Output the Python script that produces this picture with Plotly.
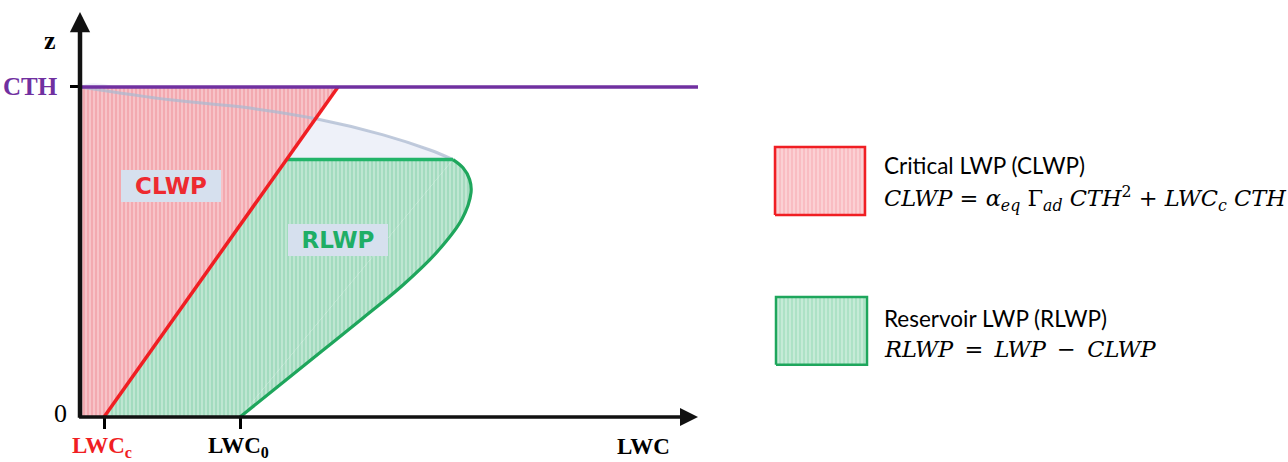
import plotly.graph_objects as go

# Liquid water content profile (LWC, height z), cloud base -> cloud top.
# z is in units of the cloud-top height (CTH = 1); LWC in arbitrary units.
z_prof = [0.0, 0.1, 0.2, 0.3, 0.4, 0.5, 0.6, 0.68, 0.72, 0.755, 0.78,
          0.809, 0.855, 0.903, 0.936, 0.961, 1.0]
lwc_prof = [0.400, 0.5025, 0.605, 0.7075, 0.8075, 0.8925, 0.955, 0.9775, 0.974,
            0.9575, 0.9325, 0.875, 0.758, 0.593, 0.425, 0.225, 0.0]
RES_TOP_IDX = 10          # top of the reservoir part of the profile

CTH = 1.0                 # cloud-top height
LWC_C = 0.06              # critical LWC at cloud base
LWC_CLWP_TOP = 0.645      # critical profile value at cloud top
LWC_0 = lwc_prof[0]

X_AXIS_END = 1.545
Z_AXIS_END = 1.227
X_RANGE = [0, 3.02]
Y_RANGE = [0, 1.2636]

PINK, PINK_LEG = "#f3a9b0", "#f9bcc2"
GREEN_F, GREEN_LEG = "#a3dbbf", "#ade2c6"
RED = "#f01e23"
GREEN = "#1ea65c"
GREEN_TOP = "#22b469"
PURPLE = "#7030a0"
GREY = "rgba(172,186,208,0.75)"
LAVENDER = "#eef1f9"
BOX = "#d6e0ee"

z_res = z_prof[RES_TOP_IDX]
x_res = lwc_prof[RES_TOP_IDX]
slope = (LWC_CLWP_TOP - LWC_C) / CTH
x_res_left = LWC_C + slope * z_res

low_x, low_z = lwc_prof[:RES_TOP_IDX + 1], z_prof[:RES_TOP_IDX + 1]
up_x, up_z = lwc_prof[RES_TOP_IDX:], z_prof[RES_TOP_IDX:]


def stripes(bg):
    return dict(shape="|", bgcolor=bg, fgcolor="white", size=4, solidity=0.3)


fig = go.Figure()

# region between the reservoir top and the entrained upper profile
fig.add_trace(go.Scatter(
    x=up_x + [0], y=up_z + [z_res], mode="lines",
    line=dict(width=0, shape="spline"),
    fill="toself", fillcolor=LAVENDER, hoverinfo="skip"))

# reservoir LWP: straight-edged part, then the part bulging out to the profile
fig.add_trace(go.Scatter(
    x=[0, LWC_0, x_res, 0], y=[0, 0, z_res, z_res], mode="lines",
    line=dict(width=0), fill="toself", fillcolor=GREEN_F,
    fillpattern=stripes(GREEN_F), hoverinfo="skip"))
fig.add_trace(go.Scatter(
    x=low_x, y=low_z, mode="lines", line=dict(width=0, shape="spline"),
    fill="toself", fillcolor=GREEN_F, fillpattern=stripes(GREEN_F),
    hoverinfo="skip"))

# critical LWP (left of the critical profile)
fig.add_trace(go.Scatter(
    x=[0, LWC_C, LWC_CLWP_TOP, 0], y=[0, 0, CTH, CTH],
    mode="lines", line=dict(width=0),
    fill="toself", fillcolor=PINK, fillpattern=stripes(PINK),
    hoverinfo="skip"))

# upper (entrained) part of the profile
fig.add_trace(go.Scatter(
    x=up_x, y=up_z, mode="lines",
    line=dict(color=GREY, width=3, shape="spline"), hoverinfo="skip"))

# reservoir outline: profile and its flat top
fig.add_trace(go.Scatter(
    x=low_x, y=low_z, mode="lines",
    line=dict(color=GREEN, width=3.2, shape="spline"), hoverinfo="skip"))
fig.add_trace(go.Scatter(
    x=[x_res_left, x_res], y=[z_res, z_res], mode="lines",
    line=dict(color=GREEN_TOP, width=3.5), hoverinfo="skip"))

# critical LWC profile
fig.add_trace(go.Scatter(
    x=[LWC_C, LWC_CLWP_TOP], y=[0, CTH], mode="lines",
    line=dict(color=RED, width=3.5), hoverinfo="skip"))

# cloud-top height
fig.add_trace(go.Scatter(
    x=[0, X_AXIS_END], y=[CTH, CTH], mode="lines",
    line=dict(color=PURPLE, width=3.5), hoverinfo="skip"))


# legend swatches
def swatch(x0, x1, y0, y1, bg, edge):
    fig.add_trace(go.Scatter(
        x=[x0, x1, x1, x0, x0], y=[y0, y0, y1, y1, y0], mode="lines",
        line=dict(color=edge, width=2.5), fill="toself", fillcolor=bg,
        fillpattern=stripes(bg), hoverinfo="skip"))


swatch(1.7375, 1.9625, 0.612, 0.818, PINK_LEG, RED)
swatch(1.740, 1.9675, 0.158, 0.364, GREEN_LEG, GREEN)

ann = []
# axes with arrow heads
ann.append(dict(x=0, y=Z_AXIS_END, ax=0, ay=-0.007, xref="x", yref="y",
                axref="x", ayref="y", text="", showarrow=True, arrowhead=2,
                arrowsize=0.9, arrowwidth=4.5, arrowcolor="#111111"))
ann.append(dict(x=X_AXIS_END, y=0, ax=-0.006, ay=0, xref="x", yref="y",
                axref="x", ayref="y", text="", showarrow=True, arrowhead=2,
                arrowsize=1.0, arrowwidth=3.6, arrowcolor="#111111"))


def to_paper(x, y):
    return ((x - X_RANGE[0]) / (X_RANGE[1] - X_RANGE[0]),
            (y - Y_RANGE[0]) / (Y_RANGE[1] - Y_RANGE[0]))


serif = "Liberation Serif"


def label(x, y, text, color="black", size=24, weight="bold", xanchor="center"):
    px, py = to_paper(x, y)
    ann.append(dict(x=px, y=py, xref="paper", yref="paper", text=text,
                    showarrow=False, xanchor=xanchor, yanchor="middle",
                    font=dict(family=serif, size=size, color=color, weight=weight)))


label(-0.075, 1.142, "z", size=26)
label(-0.05, CTH, "CTH", color=PURPLE, size=25, xanchor="right")
label(-0.05, 0.012, "0", size=26, weight="normal")
label(LWC_C - 0.005, -0.09, "LWC<sub>c</sub>", color=RED, size=23)
label(LWC_0 - 0.005, -0.09, "LWC<sub>0</sub>", size=23)
label(1.4075, -0.09, "LWC", size=23)

# region labels
for x, y, text, color in [(0.2275, 0.70, "CLWP", "#ee2a30"),
                          (0.644, 0.536, "RLWP", "#1fae66")]:
    ann.append(dict(x=x, y=y, xref="x", yref="y", text=text, showarrow=False,
                    bgcolor=BOX, borderpad=0, borderwidth=0, width=100, height=32,
                    font=dict(family="DejaVu Sans", size=23, color=color,
                              weight="bold")))

# legend texts
sans = "Lato"
math = "DejaVu Serif"


def ltext(y, text, family, size):
    ann.append(dict(x=2.005, y=y, xref="x", yref="y", text=text, showarrow=False,
                    xanchor="left", yanchor="middle",
                    font=dict(family=family, size=size, color="black")))


ltext(0.762, "Critical LWP (CLWP)", sans, 22.5)
ltext(0.662, "<i>CLWP</i> = <i>α</i><sub><i>eq</i></sub> Γ<sub><i>ad</i></sub> "
             "<i>CTH</i><sup>2</sup> + <i>LWC</i><sub><i>c</i></sub> <i>CTH</i>",
      math, 22.5)
ltext(0.300, "Reservoir LWP (RLWP)", sans, 22.5)
ltext(0.205, "<i>RLWP</i>\u2002=\u2002<i>LWP</i>\u2002\u2212\u2002<i>CLWP</i>",
      math, 22.5)

fig.update_layout(
    width=1288, height=462,
    margin=dict(l=80, r=0, t=0, b=45),
    paper_bgcolor="white", plot_bgcolor="white",
    showlegend=False,
    annotations=ann,
    xaxis=dict(range=X_RANGE, showgrid=False, zeroline=False, showline=False,
               tickvals=[LWC_C, LWC_0], ticks="outside", ticklen=11,
               tickwidth=3, tickcolor="black", showticklabels=False,
               fixedrange=True),
    yaxis=dict(range=Y_RANGE, showgrid=False, zeroline=False, showline=False,
               tickvals=[CTH], ticks="outside", ticklen=9, tickwidth=3,
               tickcolor="black", showticklabels=False, fixedrange=True),
)

fig.write_html("out.html", config=dict(displayModeBar=False))
